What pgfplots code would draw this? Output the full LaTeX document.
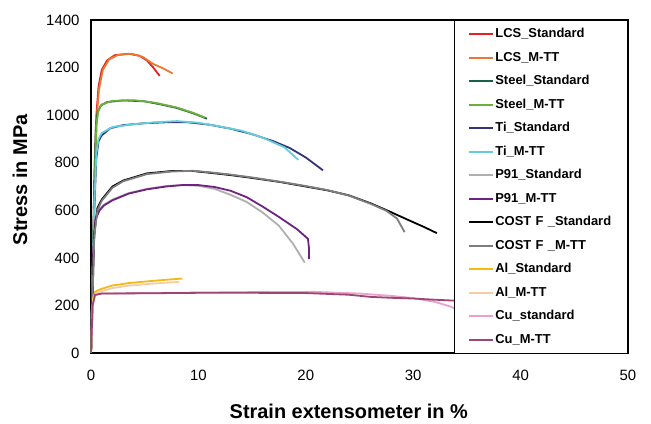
\documentclass[border=0pt]{standalone}
\usepackage{pgfplots}
\pgfplotsset{compat=1.18}
\usepackage{fontspec}
\setmainfont{Liberation Sans}

\definecolor{lcsstd}{RGB}{225,35,35}
\definecolor{lcsmtt}{RGB}{235,120,50}
\definecolor{steelstd}{RGB}{25,95,75}
\definecolor{steelmtt}{RGB}{110,175,60}
\definecolor{tistd}{RGB}{50,50,120}
\definecolor{timtt}{RGB}{100,205,220}
\definecolor{pstd}{RGB}{175,175,175}
\definecolor{pmtt}{RGB}{110,35,130}
\definecolor{costd}{RGB}{0,0,0}
\definecolor{comtt}{RGB}{125,125,125}
\definecolor{alstd}{RGB}{245,185,20}
\definecolor{almtt}{RGB}{245,205,165}
\definecolor{custd}{RGB}{235,160,205}
\definecolor{cumtt}{RGB}{155,70,115}

\begin{document}
\begin{tikzpicture}
\begin{axis}[
  scale only axis,
  width=537bp, height=333bp,
  xmin=0, xmax=50, ymin=0, ymax=1400,
  xtick={0,10,...,50}, ytick={0,200,...,1400},
  major tick length=0pt,
  axis line style={line width=1.3bp},
  tick label style={font=\fontsize{15}{18}\selectfont},
  /pgf/number format/assume math mode=true,
  /pgf/number format/1000 sep={},
  xticklabel style={yshift=-14bp},
  yticklabel style={xshift=-8bp},
  xlabel={Strain extensometer in \%},
  ylabel={Stress in MPa},
  label style={font=\bfseries\fontsize{20}{24}\selectfont},
  xlabel style={at={(axis description cs:0.48,-0.174)}, anchor=center},
  ylabel style={at={(axis description cs:-0.132,0.52)}, anchor=center},
  every axis plot/.append style={line width=1.8bp},
  legend cell align=left,
  legend image code/.code={\draw[#1, line width=2bp] (0bp,0bp) -- (24bp,0bp);},
  legend style={at={(1,1)}, anchor=north east, draw=black, line width=1.3bp,
    fill=white, inner xsep=14bp, inner ysep=7bp, row sep=10.5bp, column sep=1bp,
    font=\bfseries\fontsize{13}{15}\selectfont,
    nodes={text width=118bp, align=left, inner xsep=0pt, inner ysep=0pt,
      text height=10bp, text depth=3bp}},
]
\addplot[lcsstd] coordinates {(0,0) (0.35,800) (0.5,1000) (0.7,1120) (1,1190) (1.5,1230) (2.2,1252) (3.5,1258) (4.5,1250) (5.2,1230) (5.8,1200) (6.4,1165)};
\addplot[lcsmtt] coordinates {(0,0) (0.4,800) (0.55,1000) (0.75,1110) (1.1,1190) (1.7,1235) (2.5,1253) (3.8,1258) (4.8,1245) (5.8,1215) (6.8,1195) (7.6,1175)};
\addplot[steelstd] coordinates {(0,0) (0.3,700) (0.45,950) (0.6,1010) (0.9,1040) (1.5,1055) (3,1062) (5,1058) (6.5,1045) (8,1030) (9.5,1008) (10.8,985)};
\addplot[steelmtt] coordinates {(0,0) (0.35,720) (0.5,960) (0.7,1020) (1,1045) (2,1060) (4,1063) (6,1052) (8,1032) (9.5,1010) (10.6,990)};
\addplot[tistd] coordinates {(0,0) (0.3,600) (0.5,820) (0.7,890) (1,915) (1.8,945) (3,958) (5,966) (7,970) (9,970) (11,960) (13,943) (15,920) (17,890) (18.5,862) (20,822) (21.6,768)};
\addplot[timtt] coordinates {(0,0) (0.3,620) (0.5,840) (0.7,900) (1,925) (2,950) (4,962) (6,970) (8,975) (10,968) (12,952) (14,935) (16,905) (18,865) (19.3,812)};
\addplot[pstd] coordinates {(0,0) (0.2,430) (0.4,565) (0.8,605) (1.2,623) (2,645) (3.5,672) (5.2,690) (7,702) (8.5,706) (10,703) (11.5,690) (13,665) (14.5,635) (16,590) (17.5,535) (18.8,460) (19.9,380)};
\addplot[pmtt] coordinates {(0,0) (0.2,420) (0.4,560) (0.8,600) (1.2,620) (2,642) (3.5,670) (5.2,688) (7,700) (8.5,706) (10,706) (11.5,698) (13,682) (14.5,655) (16,615) (17.5,572) (19.2,520) (20.2,480) (20.3,440) (20.3,395)};
\addplot[costd] coordinates {(0,0) (0.3,500) (0.6,610) (1,645) (2,700) (3,725) (5.2,755) (7.5,765) (9.5,765) (11,758) (13,748) (15,736) (17.6,719) (20,700) (22,684) (24,663) (26,630) (27.8,595) (29.5,560) (31,530) (32.2,504)};
\addplot[comtt] coordinates {(0,0) (0.3,490) (0.6,600) (1,640) (2,695) (3,722) (5.2,752) (7.5,763) (9.5,766) (11,760) (13,750) (15,738) (17.6,720) (20,702) (22,685) (24,662) (26,628) (27.5,598) (28.5,565) (29.2,508)};
\addplot[alstd] coordinates {(0,0) (0.2,232) (0.4,258) (1,270) (2,284) (3.5,294) (5.2,301) (7,308) (8.5,313)};
\addplot[almtt] coordinates {(0,0) (0.2,225) (0.45,250) (1,260) (2,273) (3.5,283) (5.5,291) (7.5,297) (8.2,299)};
\addplot[custd] coordinates {(0,0) (0.15,200) (0.37,244) (1,250) (5,252) (10,254) (15,256) (20.7,257) (25,250) (28,240) (30,231) (32,215) (33.5,195) (34.4,177)};
\addplot[cumtt] coordinates {(0,0) (0.15,200) (0.37,244) (1,250) (5,251) (10,253) (15,253) (20,252) (24,245) (26,236) (28,232) (30,229) (32,224) (34.4,219)};
\legend{LCS\_Standard, LCS\_M-TT, Steel\_Standard, Steel\_M-TT, Ti\_Standard, Ti\_M-TT, P91\_Standard, P91\_M-TT, COST F \_Standard, COST F \_M-TT, Al\_Standard, Al\_M-TT, Cu\_standard, Cu\_M-TT}
\end{axis}
\path (current axis.south west) ++(-91bp,-71bp) rectangle ([shift={(23bp,20bp)}]current axis.north east);
\end{tikzpicture}
\end{document}
